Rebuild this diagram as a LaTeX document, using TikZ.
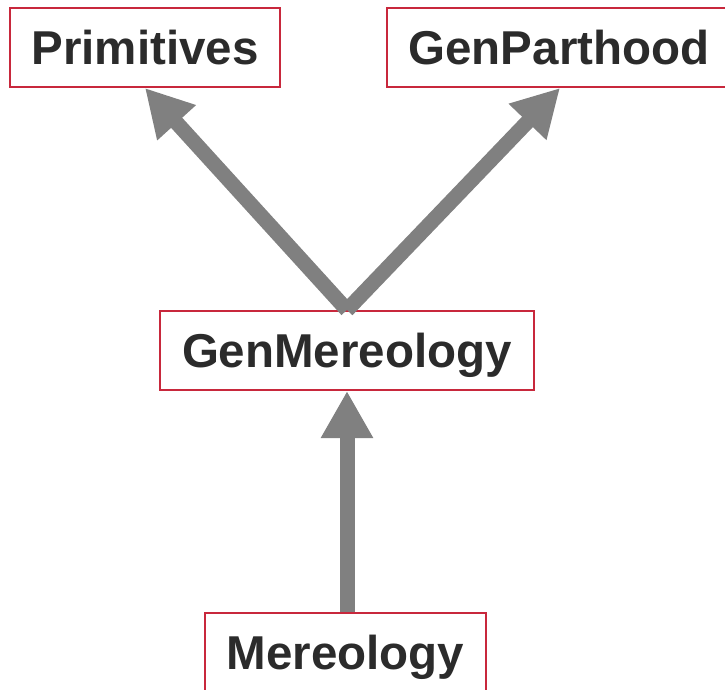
\documentclass[tikz,border=0pt]{standalone}
\usepackage{fontspec}
\setmainfont{Liberation Sans}
\usetikzlibrary{arrows.meta}
\definecolor{boxred}{HTML}{C8283C}
\definecolor{labelgray}{HTML}{2B2B2B}
\definecolor{arrowgray}{HTML}{808080}
\tikzset{
  module/.style={draw=boxred, line width=2pt, fill=white, inner sep=0pt,
    minimum height=79pt, text=labelgray, text height=34pt, text depth=0pt,
    font=\fontsize{47.5pt}{52pt}\selectfont\bfseries},
  imports/.style={draw=arrowgray, line width=15pt,
    -{Triangle[length=47pt, width=49pt]}}
}
\begin{document}
\begin{tikzpicture}[x=1pt, y=-1pt]
  \useasboundingbox (0,0) rectangle (725,690);
  \begin{scope}
    \clip (0,0) rectangle (725,690);
    \node[module, minimum width=270pt] (prim) at (145,47.5) {Primitives};
    \node[module, minimum width=346pt] (gpart) at (560,47.5) {\hspace*{-2pt}GenParthood};
    \node[module, minimum width=374pt] (gmer) at (347,350.5) {GenMereology};
    \node[module, minimum width=281pt] (mer) at (345.5,652.5) {Mereology};
    \draw[imports] (gmer.north) -- (prim.south);
    \draw[imports] (gmer.north) -- (gpart.south);
    \draw[imports] (mer.north -| gmer.south) -- (gmer.south);
  \end{scope}
\end{tikzpicture}
\end{document}
